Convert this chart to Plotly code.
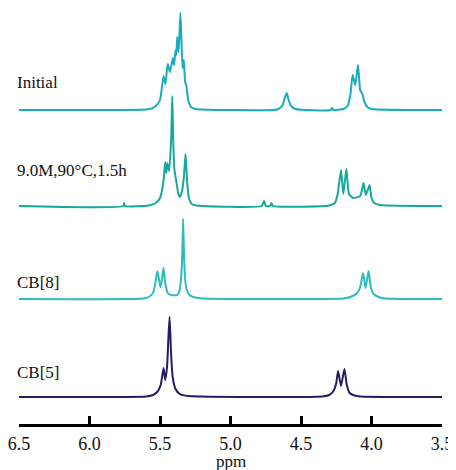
import plotly.graph_objects as go

# ---- data: chemical shift (ppm) and intensity above each trace's baseline ----
initial_ppm = [6.50, 5.60, 5.56, 5.53, 5.50, 5.475, 5.462, 5.445, 5.430, 5.408, 5.400, 5.390, 5.384,
               5.378, 5.368, 5.355, 5.340, 5.331, 5.322, 5.314, 5.300, 5.280, 5.250, 4.700, 4.660,
               4.630, 4.615, 4.602, 4.588, 4.570, 4.540, 4.290, 4.280, 4.270, 4.200, 4.170, 4.150,
               4.134, 4.115, 4.096, 4.080, 4.065, 4.050, 4.030, 4.000, 3.500]
initial_int = [0, 0.5, 1.5, 4, 10, 34, 26, 46, 38, 52, 45, 60, 55,
               73, 58, 97, 42, 50, 28, 25, 10, 3, 1, 0, 1,
               5, 12, 17, 10, 4, 1, 0, 2, 0, 1, 4, 15,
               35, 25, 45, 20, 16, 8, 3, 1, 0]

heated_ppm = [6.50, 5.760, 5.754, 5.748, 5.58, 5.53, 5.50, 5.475, 5.463, 5.455, 5.448, 5.435, 5.420,
              5.413, 5.405, 5.397, 5.385, 5.370, 5.360, 5.345, 5.330, 5.319, 5.308, 5.295, 5.275,
              5.240, 4.780, 4.762, 4.750, 4.718, 4.710, 4.700, 4.300, 4.260, 4.240, 4.216, 4.200,
              4.178, 4.160, 4.130, 4.080, 4.065, 4.056, 4.040, 4.014, 4.000, 3.980, 3.940, 3.500]
heated_int = [0, 0, 3, 0, 0.5, 3, 8, 25, 44, 33, 43, 35, 70,
              110, 60, 36, 25, 12, 9, 14, 30, 52, 25, 8, 2,
              0.5, 0, 5, 0, 0, 3, 0, 0.5, 3, 12, 36, 12,
              37, 12, 8, 10, 18, 23, 11, 21, 8, 3, 1, 0]

cb8_ppm = [6.50, 5.62, 5.58, 5.55, 5.535, 5.519, 5.505, 5.497, 5.488, 5.475, 5.462, 5.445, 5.420,
           5.378, 5.362, 5.350, 5.342, 5.336, 5.330, 5.322, 5.310, 5.290, 5.250, 5.200, 4.200,
           4.150, 4.100, 4.080, 4.060, 4.042, 4.021, 4.005, 3.985, 3.950, 3.900, 3.500]
cb8_int = [0, 0.5, 2, 6, 14, 28, 18, 12, 18, 31, 15, 6, 4,
           4, 8, 22, 45, 80, 45, 20, 9, 4, 1.5, 0.5, 0.5,
           2, 6, 12, 26, 11, 28, 12, 5, 2, 0.5, 0]

cb5_ppm = [6.50, 5.60, 5.55, 5.52, 5.495, 5.475, 5.463, 5.450, 5.440, 5.432, 5.422, 5.410, 5.390,
           5.360, 5.300, 4.350, 4.300, 4.270, 4.250, 4.237, 4.216, 4.192, 4.175, 4.155, 4.120,
           4.080, 3.500]
cb5_int = [0, 0.5, 2, 5, 12, 29, 17, 30, 60, 80, 45, 20, 8,
           3, 1, 0.5, 2, 6, 14, 26, 11, 28, 12, 4, 1.5,
           0.5, 0]

series_names = ["Initial", "9.0M,90°C,1.5h", "CB[8]", "CB[5]"]
tick_vals = [6.5, 6.0, 5.5, 5.0, 4.5, 4.0, 3.5]
tick_text = ["6.5", "6.0", "5.5", "5.0", "4.5", "4.0", "3.5"]

# ---- layout / style ----
offsets = [314, 218, 125, 27]
label_y = [342, 254, 142, 52]
colors = ["#1aabbf", "#17a89c", "#2bbcc0", "#231d66"]
series = [(initial_ppm, initial_int), (heated_ppm, heated_int), (cb8_ppm, cb8_int), (cb5_ppm, cb5_int)]

serif = "Liberation Serif, Times New Roman, serif"

fig = go.Figure()
for (xs, ys), off, col, name in zip(series, offsets, colors, series_names):
    fig.add_trace(go.Scatter(x=xs, y=[v + off for v in ys], mode="lines", name=name,
                             line=dict(color=col, width=2, shape="spline", smoothing=0.5),
                             hoverinfo="skip"))

for name, yy in zip(series_names, label_y):
    fig.add_annotation(text=name, xref="paper", x=-4 / 425, xanchor="left", yref="y", y=yy,
                       yanchor="middle", showarrow=False, font=dict(family=serif, size=17, color="#111"))

# "ppm" axis title placed as annotation below tick labels
fig.add_annotation(text="ppm", xref="paper", x=0.5, xanchor="center", yref="paper", y=0,
                   yshift=-37, yanchor="middle", showarrow=False,
                   font=dict(family=serif, size=17, color="#111"))

# page is offset by the browser's 8px body margin; figure sized to the visible area
fig.update_layout(
    width=448, height=462, showlegend=False,
    margin=dict(l=9, r=14, t=0, b=46),
    paper_bgcolor="white", plot_bgcolor="white",
    xaxis=dict(range=[6.5, 3.5], showgrid=False, zeroline=False, showline=True,
               linecolor="black", linewidth=3, ticks="inside", ticklen=8, tickwidth=2.5,
               tickcolor="black", tickvals=tick_vals, ticktext=tick_text,
               ticklabelstandoff=1, ticklabeloverflow="allow",
               tickfont=dict(family=serif, size=18, color="#111")),
    yaxis=dict(range=[0, 416], visible=False),
)

fig.write_html("out.html")
